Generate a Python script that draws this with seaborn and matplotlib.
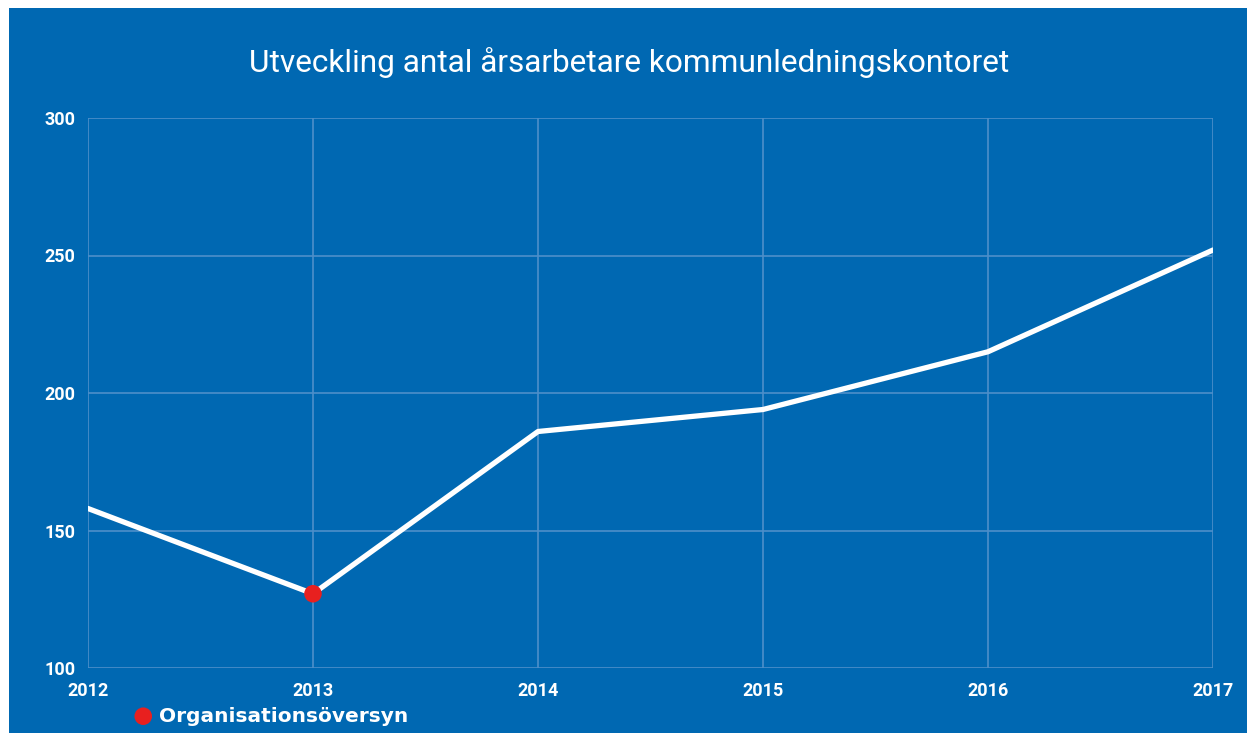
import matplotlib
matplotlib.use("Agg")
import matplotlib.pyplot as plt
import seaborn as sns
import pandas as pd
from matplotlib.patches import Rectangle

# --- data ---
years = [2012, 2013, 2014, 2015, 2016, 2017]
fte = [158, 127, 186, 194, 215, 252]
event_year = [2013]
event_value = [127]
event_label = "Organisationsöversyn"
y_ticks = [100, 150, 200, 250, 300]

blue = "#0068b2"
grid_col = "#4d8fca"

sns.set_theme(style="white")
plt.rcParams["font.family"] = ["Roboto", "DejaVu Sans"]

df = pd.DataFrame({"year": years, "fte": fte})
ev = pd.DataFrame({"year": event_year, "fte": event_value})

fig = plt.figure(figsize=(12.47, 7.33), dpi=100, facecolor="white")
# blue card with a thin white margin on the left and top
fig.patches.append(Rectangle((9 / 1247, 0), 1 - 9 / 1247, 725 / 733,
                             transform=fig.transFigure, facecolor=blue,
                             edgecolor="none", zorder=-10))

ax = fig.add_axes([88 / 1247, 1 - 668 / 733, (1213 - 88) / 1247, (668 - 118) / 733])
ax.set_facecolor(blue)

sns.lineplot(data=df, x="year", y="fte", ax=ax, color="white", linewidth=3.8,
             zorder=3, legend=False)
sns.scatterplot(data=ev, x="year", y="fte", ax=ax, color="#e8201f", s=160,
                edgecolor="none", zorder=4, label=event_label)

ax.set_xlim(years[0], years[-1])
ax.set_ylim(y_ticks[0], y_ticks[-1])
ax.set_xticks(years)
ax.set_yticks(y_ticks)
ax.set_xlabel("")
ax.set_ylabel("")
ax.grid(True, color=grid_col, linewidth=1.2)
for s in ax.spines.values():
    s.set_visible(False)
ax.tick_params(axis="both", length=0, labelcolor="white", labelsize=13)
ax.tick_params(axis="x", pad=10)
ax.tick_params(axis="y", pad=9)
for lab in ax.get_xticklabels() + ax.get_yticklabels():
    lab.set_fontweight("bold")

fig.text(629 / 1247, 1 - 63 / 733, "Utveckling antal årsarbetare kommunledningskontoret",
         ha="center", va="center", color="white", fontsize=22.8)

leg = ax.legend(loc="center left", bbox_to_anchor=(109 / 1247, 1 - 716 / 733),
                bbox_transform=fig.transFigure, frameon=False, handletextpad=0.0,
                handlelength=1.6, markerscale=1.0,
                prop={"family": "DejaVu Sans", "weight": "bold", "size": 14.5})
for t in leg.get_texts():
    t.set_color("white")

fig.savefig("out.png", dpi=100, facecolor=fig.get_facecolor())
